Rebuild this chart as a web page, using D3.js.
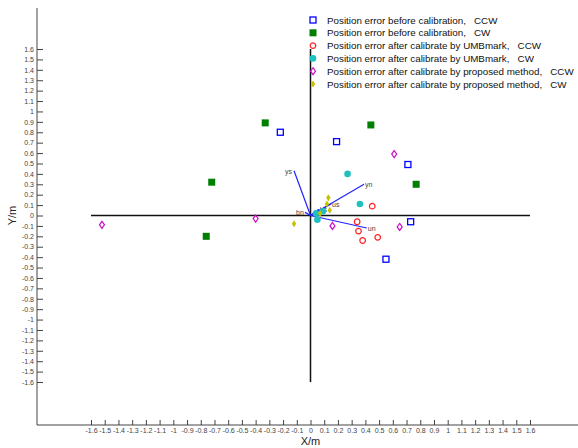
<!DOCTYPE html>
<html>
<head>
<meta charset="utf-8">
<script src="https://cdn.jsdelivr.net/npm/d3@7"></script>
<style>
  body { margin: 0; background: #fff; }
  svg { font-family: "Liberation Sans", Arial, sans-serif; }
</style>
</head>
<body>
<script>
// series values, [x, y] in metres
const beforeCCW = [[-0.22, 0.80], [0.19, 0.71], [0.71, 0.49], [0.73, -0.06], [0.55, -0.42]];
const beforeCW = [[-0.33, 0.89], [-0.72, 0.32], [-0.76, -0.20], [0.44, 0.87], [0.77, 0.30]];
const umbCCW = [[0.45, 0.09], [0.34, -0.06], [0.35, -0.15], [0.49, -0.21], [0.38, -0.24]];
const umbCW = [[0.27, 0.40], [0.36, 0.11], [0.09, 0.04], [0.05, -0.04], [0.04, 0.02]];
const propCCW = [[-1.52, -0.09], [-0.40, -0.03], [0.61, 0.59], [0.16, -0.10], [0.65, -0.11]];
const propCW = [[-0.12, -0.08], [0.13, 0.17], [0.12, 0.11], [0.14, 0.05], [0.07, 0.02]];

const vecNames = ["ys", "yn", "un", "us", "bs", "bn"];
const vecEnds = [[-0.12, 0.43], [0.39, 0.30], [0.41, -0.12], [0.15, 0.11], [0.06, 0.06], [-0.04, 0.03]];

const legendLabels = [
  "Position error before calibration,   CCW",
  "Position error before calibration,   CW",
  "Position error after calibrate by UMBmark,   CCW",
  "Position error after calibrate by UMBmark,   CW",
  "Position error after calibrate by proposed method,   CCW",
  "Position error after calibrate by proposed method,   CW"
];
const tickVals = d3.range(-16, 17).map(i => i / 10);

const width = 578, height = 448;
const svg = d3.select("body").append("svg")
  .attr("width", width).attr("height", height);

const x = d3.scaleLinear().domain([-1.6, 1.6]).range([91, 530]);
const y = d3.scaleLinear().domain([-1.6, 1.6]).range([382, 49]);
const fmt = d => String(+d.toFixed(1));

// frame
const frameX = 37, frameTop = 8, frameBottom = 425;
svg.append("line").attr("x1", frameX).attr("x2", frameX)
  .attr("y1", frameTop).attr("y2", frameBottom).attr("stroke", "#444");
svg.append("line").attr("x1", frameX).attr("x2", width)
  .attr("y1", frameBottom).attr("y2", frameBottom).attr("stroke", "#444");

const yAxis = svg.append("g").attr("transform", `translate(${frameX},0)`)
  .call(d3.axisLeft(y).tickValues(tickVals).tickFormat(fmt).tickSize(-6).tickPadding(3));
const xAxis = svg.append("g").attr("transform", `translate(0,${frameBottom})`)
  .call(d3.axisBottom(x).tickValues(tickVals).tickFormat(fmt).tickSize(-5).tickPadding(3));
[yAxis, xAxis].forEach(a => {
  a.select(".domain").remove();
  a.selectAll(".tick line").attr("stroke", "#444");
  a.selectAll(".tick text").attr("fill", "#444").style("font-size", "7px")
    .style("font-family", "'Liberation Sans', Arial, sans-serif");
});

svg.append("text").attr("transform", `translate(16,${y(0)}) rotate(-90)`)
  .attr("text-anchor", "middle").style("font-size", "11px").attr("fill", "#222").text("Y/m");
svg.append("text").attr("x", x(0)).attr("y", 445)
  .attr("text-anchor", "middle").style("font-size", "11px").attr("fill", "#222").text("X/m");

// cross through the origin
svg.append("line").attr("x1", x(-1.6)).attr("x2", x(1.6))
  .attr("y1", y(0)).attr("y2", y(0)).attr("stroke", "#111").attr("stroke-width", 1.5);
svg.append("line").attr("x1", x(0)).attr("x2", x(0))
  .attr("y1", y(1.6)).attr("y2", y(-1.6)).attr("stroke", "#111").attr("stroke-width", 1.5);

// vectors
svg.selectAll("line.vec").data(vecEnds).enter().append("line")
  .attr("class", "vec")
  .attr("x1", x(0)).attr("y1", y(0))
  .attr("x2", d => x(d[0])).attr("y2", d => y(d[1]))
  .attr("stroke", "#2222ff").attr("stroke-width", 1.2);
svg.selectAll("text.vec").data(vecEnds).enter().append("text")
  .attr("class", "vec")
  .attr("x", (d, i) => x(d[0]) + (d[0] < 0 ? -9 : 1))
  .attr("y", d => y(d[1]) + 3)
  .style("font-size", "7px").attr("fill", "#444")
  .text((d, i) => vecNames[i]);

// marker styles
const symbols = [
  {data: beforeCCW, draw: g => g.append("rect").attr("x", -3).attr("y", -3).attr("width", 6).attr("height", 6)
      .attr("fill", "none").attr("stroke", "#0000ff").attr("stroke-width", 1.3)},
  {data: beforeCW, draw: g => g.append("rect").attr("x", -3.5).attr("y", -3.5).attr("width", 7).attr("height", 7)
      .attr("fill", "#007f00")},
  {data: umbCCW, draw: g => g.append("circle").attr("r", 2.8)
      .attr("fill", "none").attr("stroke", "#ff2020").attr("stroke-width", 1.2)},
  {data: umbCW, draw: g => g.append("circle").attr("r", 3.3).attr("fill", "#20c0c0")},
  {data: propCCW, draw: g => g.append("path").attr("d", "M0,-3.5L2.5,0L0,3.5L-2.5,0Z")
      .attr("fill", "none").attr("stroke", "#cc10cc").attr("stroke-width", 1.2)},
  {data: propCW, draw: g => g.append("path").attr("d", "M0,-3.5L2.2,0L0,3.5L-2.2,0Z").attr("fill", "#c8c000")}
];

symbols.forEach(s => {
  svg.append("g").selectAll("g").data(s.data).enter().append("g")
    .attr("transform", d => `translate(${x(d[0])},${y(d[1])})`)
    .each(function () { s.draw(d3.select(this)); });
});

// legend
const legend = svg.append("g").attr("transform", "translate(313,20)");
legendLabels.forEach((lab, i) => {
  const row = legend.append("g").attr("transform", `translate(0,${i * 12.8})`);
  symbols[i].draw(row);
  row.append("text").attr("x", 14).attr("y", 3.5)
    .style("font-size", "9.8px").style("white-space", "pre").attr("fill", "#111").text(lab);
});
</script>
</body>
</html>
